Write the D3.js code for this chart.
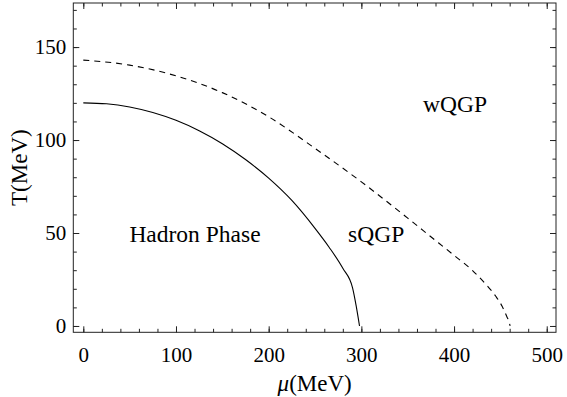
<!DOCTYPE html>
<html>
<head>
<meta charset="utf-8">
<script src="https://cdn.jsdelivr.net/npm/d3@7"></script>
<style>
  body { margin: 0; background: #fff; }
  svg { display: block; }
  svg text { font-family: 'Liberation Serif', 'Times New Roman', serif; }
  .frame { fill: none; stroke: #222; stroke-width: 1; }
  .tick line { stroke: #222; }
  .tick text { fill: #000; }
</style>
</head>
<body>
<div id="chart"></div>
<script>
// chemical potential (MeV) / temperature (MeV)
const hadronMu = [0, 25, 50, 75, 100, 125, 150, 175, 200, 225, 250, 265, 280, 290.5, 294.5, 298]
const hadronT = [120, 119.5, 117.8, 114.8, 110.6, 105, 98, 89.5, 79.5, 67.5, 52.5, 42.5, 31, 20.5, 10.5, 0]

const wqgpMu = [0, 50, 100, 150, 200, 250, 300, 350, 375, 400, 420, 435, 445, 452, 457, 459.5, 460.5]
const wqgpT = [143, 140.3, 134.5, 125.5, 112.5, 95.5, 77.5, 58, 48, 38, 29.8, 22, 16, 10.5, 5, 2, 0]

const xTicks = [0, 100, 200, 300, 400, 500]
const yTicks = [0, 50, 100, 150]

const regionNames = ['Hadron Phase', 'sQGP', 'wQGP']
const regionMu = [120.5, 316, 401]
const regionT = [45.3, 45.3, 115.2]

const W = 567, H = 397
const margin = { TOP: 3, RIGHT: 11, BOTTOM: 64.7, LEFT: 73.3 }

const svg = d3.select('#chart').append('svg')
  .attr('width', W)
  .attr('height', H)

const x = d3.scaleLinear().domain([-10.8, 510]).range([margin.LEFT, W - margin.RIGHT])
const y = d3.scaleLinear().domain([-3.4, 173.7]).range([H - margin.BOTTOM, margin.TOP])

const minorX = d3.range(0, 520, 20)
const minorY = d3.range(0, 180, 10)

// minor ticks on all four sides, pointing in
const minor = (axis, vals) => axis.tickValues(vals).tickSize(-3.5).tickFormat('')

svg.append('g').attr('transform', `translate(0,${y.range()[0]})`)
  .call(minor(d3.axisBottom(x), minorX))
svg.append('g').attr('transform', `translate(0,${y.range()[1]})`)
  .call(minor(d3.axisTop(x), minorX))
svg.append('g').attr('transform', `translate(${x.range()[0]},0)`)
  .call(minor(d3.axisLeft(y), minorY))
svg.append('g').attr('transform', `translate(${x.range()[1]},0)`)
  .call(minor(d3.axisRight(y), minorY))

const serifLabels = g => g.selectAll('text')
  .style('font-family', "'Liberation Serif', 'Times New Roman', serif")
  .style('font-size', '21px')

// major ticks + labels
svg.append('g')
  .attr('transform', `translate(0,${y.range()[0]})`)
  .call(d3.axisBottom(x).tickValues(xTicks).tickSize(-6).tickPadding(15))
  .call(serifLabels)
svg.append('g')
  .attr('transform', `translate(0,${y.range()[1]})`)
  .call(d3.axisTop(x).tickValues(xTicks).tickSize(-6).tickFormat(''))
svg.append('g')
  .attr('transform', `translate(${x.range()[0]},0)`)
  .call(d3.axisLeft(y).tickValues(yTicks).tickSize(-6).tickPadding(7))
  .call(serifLabels)
svg.append('g')
  .attr('transform', `translate(${x.range()[1]},0)`)
  .call(d3.axisRight(y).tickValues(yTicks).tickSize(-6).tickFormat(''))

svg.selectAll('.domain').remove()

svg.append('rect')
  .attr('class', 'frame')
  .attr('x', x.range()[0])
  .attr('y', y.range()[1])
  .attr('width', x.range()[1] - x.range()[0])
  .attr('height', y.range()[0] - y.range()[1])

const line = d3.line()
  .x(d => x(d[0]))
  .y(d => y(d[1]))
  .curve(d3.curveMonotoneX)

svg.append('path')
  .datum(d3.zip(hadronMu, hadronT))
  .attr('d', line)
  .attr('fill', 'none')
  .attr('stroke', '#000')
  .attr('stroke-width', 1.1)

svg.append('path')
  .datum(d3.zip(wqgpMu, wqgpT))
  .attr('d', line)
  .attr('fill', 'none')
  .attr('stroke', '#000')
  .attr('stroke-width', 1.1)
  .attr('stroke-dasharray', '6,5')

svg.append('g')
  .selectAll('text')
  .data(regionNames)
  .join('text')
  .attr('x', (d, i) => x(regionMu[i]))
  .attr('y', (d, i) => y(regionT[i]))
  .attr('text-anchor', 'middle')
  .attr('font-size', 23.5)
  .text(d => d)

// axis titles
const midX = (x.range()[0] + x.range()[1]) / 2
const midY = (y.range()[0] + y.range()[1]) / 2

const xt = svg.append('text')
  .attr('x', midX)
  .attr('y', 391)
  .attr('text-anchor', 'middle')
  .attr('font-size', 23)
xt.append('tspan').attr('font-style', 'italic').text('μ')
xt.append('tspan').text('(MeV)')

svg.append('text')
  .attr('transform', `translate(27,${midY}) rotate(-90)`)
  .attr('text-anchor', 'middle')
  .attr('font-size', 23)
  .text('T(MeV)')
</script>
</body>
</html>
